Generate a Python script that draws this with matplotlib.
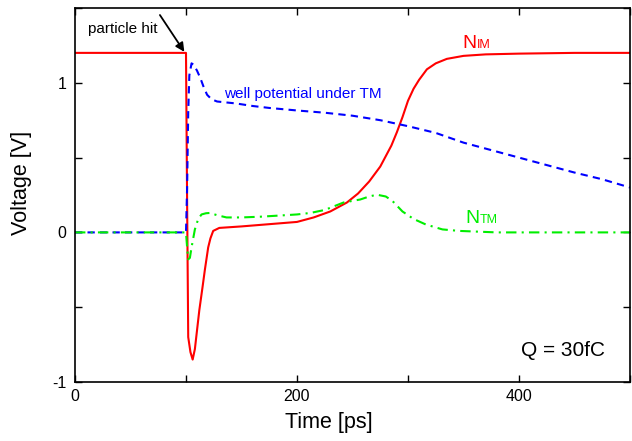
import matplotlib
matplotlib.use("Agg")
import matplotlib.pyplot as plt
import matplotlib.transforms as mtransforms
from matplotlib.ticker import FixedLocator

plt.rcParams['font.family'] = ['Liberation Sans', 'DejaVu Sans']
plt.rcParams['axes.unicode_minus'] = False

# N_IM (red, solid)
t_nim = [0, 100, 101, 102, 104, 106, 108, 110, 112, 115, 117, 120, 122, 124.5, 130, 150,
         175, 200, 215, 230, 245, 255, 265, 275, 285, 290, 295, 300, 305, 310, 317,
         325, 335, 350, 370, 400, 450, 500]
v_nim = [1.2, 1.2, 0.2, -0.7, -0.8, -0.85, -0.78, -0.65, -0.52, -0.36, -0.25, -0.1, -0.04,
         0.01, 0.03, 0.04, 0.055, 0.07, 0.1, 0.14, 0.2, 0.26, 0.34, 0.44, 0.58, 0.67, 0.77,
         0.88, 0.96, 1.02, 1.09, 1.13, 1.16, 1.18, 1.19, 1.195, 1.2, 1.2]

# well potential under TM (blue, dashed)
t_well = [0, 100, 101, 102, 103, 105, 107, 110, 113, 116, 119, 123, 128, 145, 160, 175, 200,
          225, 250, 275, 300, 325, 350, 375, 400, 425, 450, 475, 500]
v_well = [0, 0, 0.3, 0.8, 1.05, 1.13, 1.12, 1.08, 1.03, 0.97, 0.92, 0.89, 0.875, 0.862,
          0.845, 0.832, 0.815, 0.8, 0.78, 0.75, 0.71, 0.665, 0.6, 0.55, 0.5, 0.45, 0.4,
          0.355, 0.3]

# N_TM (green, dash-dot)
t_ntm = [0, 100, 101, 102, 103.5, 105, 106.5, 108, 111, 114, 118, 121.5, 128, 136.5, 150,
         167, 185, 200, 212, 225, 242, 257, 265, 272, 280, 286, 295, 305, 316, 331, 346,
         380, 500]
v_ntm = [0, 0, -0.1, -0.18, -0.17, -0.1, -0.04, 0.02, 0.09, 0.12, 0.128, 0.13, 0.115, 0.1,
         0.1, 0.105, 0.113, 0.12, 0.13, 0.15, 0.2, 0.22, 0.24, 0.252, 0.24, 0.21, 0.14,
         0.09, 0.053, 0.02, 0.01, 0.0, 0.0]

x_major = [0, 200, 400]
x_minor = [100, 300, 500]
y_major = [-1, 0, 1]
y_minor = [-0.5, 0.5, 1.5]

fig = plt.figure(figsize=(6.32, 4.41), dpi=100)
ax = fig.add_axes([75/632, 59/441, 555/632, 374/441])

ax.plot(t_nim, v_nim, color='#ff0000', lw=1.5, solid_joinstyle='round')
ax.plot(t_well, v_well, color='#0000ff', lw=1.5, dashes=(3.5, 2.5))
ax.plot(t_ntm, v_ntm, color='#00ee00', lw=1.5, dashes=(5, 2.5, 1, 2.5))

ax.set_xlim(0, 500)
ax.set_ylim(-1, 1.5)
ax.xaxis.set_major_locator(FixedLocator(x_major))
ax.xaxis.set_minor_locator(FixedLocator(x_minor))
ax.yaxis.set_major_locator(FixedLocator(y_major))
ax.yaxis.set_minor_locator(FixedLocator(y_minor))
ax.tick_params(which='both', direction='in', length=5, width=1, top=True, right=True,
               labelsize=11.5)
ax.tick_params(axis='x', pad=5)
ax.tick_params(axis='y', pad=6)
for s in ax.spines.values():
    s.set_linewidth(1.2)

fig.text(22/632, 1-183/441, 'Voltage [V]', rotation=90, ha='center', va='center', fontsize=15.5)
fig.text(329/632, 1-428/441, 'Time [ps]', ha='center', va='baseline', fontsize=15.5)

ax.text(11.7, 1.333, 'particle hit', fontsize=11, color='black', va='baseline', ha='left')
ax.annotate('', xy=(98.5, 1.207), xytext=(76.5, 1.453),
            arrowprops=dict(arrowstyle='-|>', color='black', lw=1.3, mutation_scale=13,
                            shrinkA=0, shrinkB=0))
ax.text(134, 0.9, 'well potential under TM', fontsize=11, color='#0000ff', va='baseline')

def two_part(x, y, big, small, color):
    ax.text(x, y, big, fontsize=14, color=color, va='baseline', ha='left')
    tr = mtransforms.offset_copy(ax.transData, fig=fig, x=0.722*14, y=0, units='points')
    ax.text(x, y, small, fontsize=9, color=color, va='baseline', ha='left', transform=tr)

two_part(349, 1.233, 'N', 'IM', '#ff0000')
two_part(352, 0.06, 'N', 'TM', '#00ee00')

ax.text(402, -0.827, 'Q = 30fC', fontsize=15, color='black', va='baseline', ha='left')

fig.savefig('out.png', dpi=100)
